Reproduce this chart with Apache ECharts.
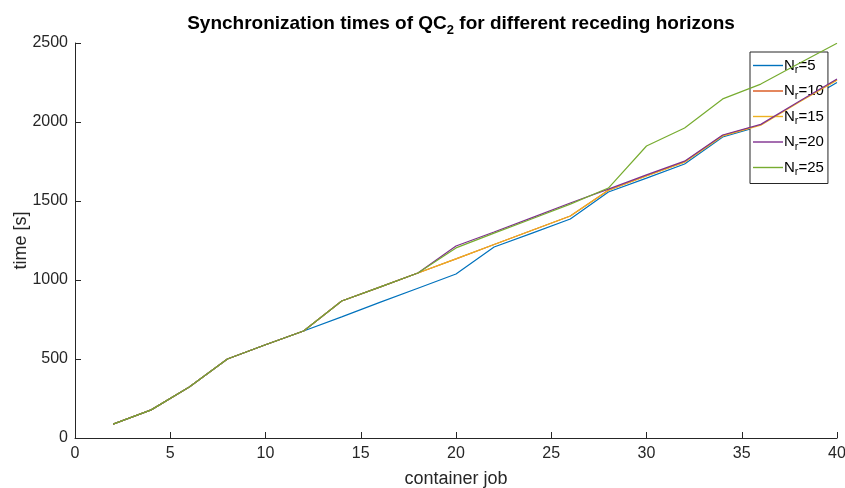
<!DOCTYPE html>
<html>
<head>
<meta charset="utf-8">
<script src="https://cdn.jsdelivr.net/npm/echarts@6/dist/echarts.min.js"></script>
<style>
  html, body { margin: 0; padding: 0; background: #fff; }
  #chart { width: 845px; height: 488px; }
</style>
</head>
<body>
<div id="chart"></div>
<script>
// container job index
const jobs = [2, 4, 6, 8, 10, 12, 14, 16, 18, 20, 22, 24, 26, 28, 30, 32, 34, 36, 38, 40];

// synchronization time [s] per receding horizon N_r
const nr5  = [88, 178, 323, 500, 590, 677, 767, 858, 948, 1038, 1209, 1297, 1386, 1557, 1645, 1734, 1905, 1975, 2110, 2250];
const nr10 = [88, 178, 323, 500, 590, 677, 867, 955, 1044, 1134, 1225, 1315, 1405, 1568, 1660, 1748, 1914, 1982, 2127, 2268];
const nr15 = [88, 178, 323, 500, 590, 677, 867, 955, 1044, 1134, 1225, 1315, 1405, 1568, 1658, 1746, 1912, 1980, 2125, 2265];
const nr20 = [88, 178, 323, 500, 590, 677, 867, 955, 1044, 1215, 1304, 1395, 1487, 1575, 1665, 1752, 1918, 1985, 2130, 2272];
const nr25 = [88, 178, 323, 500, 590, 677, 867, 955, 1044, 1203, 1297, 1388, 1480, 1582, 1848, 1962, 2146, 2240, 2370, 2498];

const horizons = ['5', '10', '15', '20', '25'];
const seriesValues = [nr5, nr10, nr15, nr20, nr25];
const colors = ['#0072BD', '#D95319', '#EDB120', '#7E2F8E', '#77AC30'];

const xTicks = { min: 0, max: 40, interval: 5 };
const yTicks = { min: 0, max: 2500, interval: 500 };

const font = '"Liberation Sans", Arial, Helvetica, sans-serif';
const axisColor = '#262626';

const chart = echarts.init(document.getElementById('chart'), null, { renderer: 'canvas' });

const series = horizons.map((h, i) => ({
  name: h,
  type: 'line',
  data: jobs.map((x, k) => [x, seriesValues[i][k]]),
  symbol: 'none',
  lineStyle: { color: colors[i], width: 1.2 },
  itemStyle: { color: colors[i] },
  emphasis: { disabled: true },
  z: 2 + i
}));

chart.setOption({
  animation: false,
  backgroundColor: '#fff',
  title: {
    text: '{a|Synchronization times of QC}{s|2}{a| for different receding horizons}',
    left: 456,
    textAlign: 'center',
    top: 8,
    textStyle: {
      rich: {
        a: { fontFamily: font, fontSize: 19, fontWeight: 'bold', color: '#000', lineHeight: 22 },
        s: { fontFamily: font, fontSize: 13, fontWeight: 'bold', color: '#000', padding: [12, 0, 0, 0], lineHeight: 14 }
      }
    }
  },
  grid: { left: 75, right: 8, top: 43, bottom: 50, containLabel: false, outerBoundsMode: 'none' },
  legend: {
    orient: 'vertical',
    left: 750,
    top: 52,
    width: 77,
    backgroundColor: '#fff',
    borderColor: axisColor,
    borderWidth: 1,
    borderRadius: 0,
    padding: [6, 4, 6, 3],
    itemGap: 8,
    itemWidth: 30,
    itemHeight: 12,
    icon: 'path://M0,5.3H30V6.7H0Z',
    data: horizons.map((h, i) => ({
      name: h,
      itemStyle: { color: colors[i], borderWidth: 0, borderColor: colors[i] }
    })),
    formatter: name => '{n|N}{s|r}{n|=' + name + '}',
    textStyle: {
      padding: [0, 0, 0, -4],
      rich: {
        n: { fontFamily: font, fontSize: 15, color: '#000' },
        s: { fontFamily: font, fontSize: 11, color: '#000', padding: [9, 0, 0, 0] }
      }
    }
  },
  xAxis: {
    type: 'value',
    min: xTicks.min, max: xTicks.max, interval: xTicks.interval,
    name: 'container job',
    nameLocation: 'middle',
    nameGap: 32,
    nameTextStyle: { fontFamily: font, fontSize: 18, color: axisColor },
    axisLine: { show: true, lineStyle: { color: axisColor, width: 1 } },
    axisTick: { show: true, inside: true, length: 6, lineStyle: { color: axisColor } },
    axisLabel: { fontFamily: font, fontSize: 16, color: axisColor, margin: 8, formatter: v => String(v) },
    splitLine: { show: false }
  },
  yAxis: {
    type: 'value',
    min: yTicks.min, max: yTicks.max, interval: yTicks.interval,
    name: 'time [s]',
    nameLocation: 'middle',
    nameGap: 45,
    nameMoveOverlap: false,
    nameTextStyle: { fontFamily: font, fontSize: 18, color: axisColor },
    axisLine: { show: true, lineStyle: { color: axisColor, width: 1 } },
    axisTick: { show: true, inside: true, length: 6, lineStyle: { color: axisColor } },
    axisLabel: { fontFamily: font, fontSize: 16, color: axisColor, margin: 7, formatter: v => String(v) },
    splitLine: { show: false }
  },
  series: series
});
</script>
</body>
</html>
